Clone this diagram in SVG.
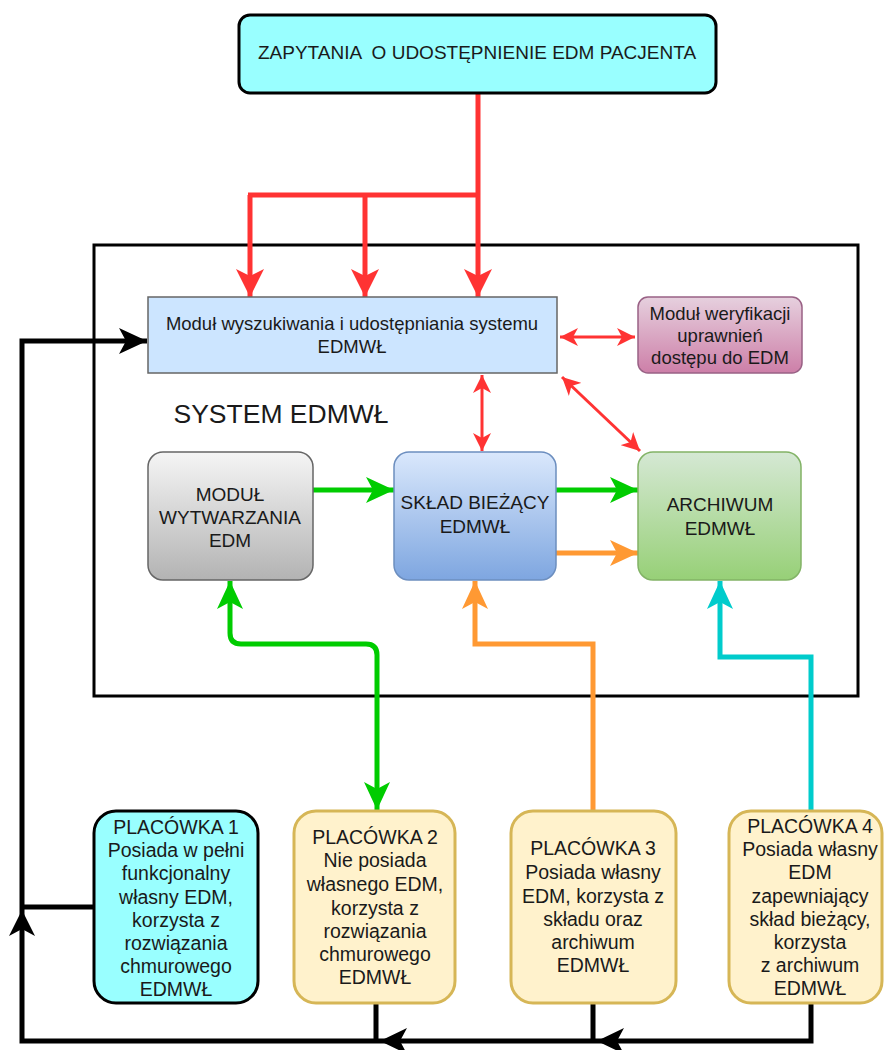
<svg xmlns="http://www.w3.org/2000/svg" width="884" height="1050" viewBox="0 0 884 1050">
<style>
text{font-family:"Liberation Sans",Arial,sans-serif;fill:#1a1a1a;text-anchor:middle;dominant-baseline:central}
.t17{font-size:19.5px}
.t16{font-size:19px}
.t15{font-size:18.5px}
.red{fill:none;stroke:#ff3333;stroke-width:5}
.red2{fill:none;stroke:#ff3333;stroke-width:3}
.blk{fill:none;stroke:#000;stroke-width:5}
.plc{fill:#fff2cc;stroke:#d6b656;stroke-width:3}
</style>
<defs>
<linearGradient id="gGray" x1="0" y1="0" x2="0" y2="1"><stop offset="0" stop-color="#f5f5f5"/><stop offset="1" stop-color="#b3b3b3"/></linearGradient>
<linearGradient id="gBlue" x1="0" y1="0" x2="0" y2="1"><stop offset="0" stop-color="#dae8fc"/><stop offset="1" stop-color="#7ea6e0"/></linearGradient>
<linearGradient id="gGreen" x1="0" y1="0" x2="0" y2="1"><stop offset="0" stop-color="#d5e8d4"/><stop offset="1" stop-color="#97d077"/></linearGradient>
<linearGradient id="gPink" x1="0" y1="0" x2="0" y2="1"><stop offset="0" stop-color="#e6d0de"/><stop offset="1" stop-color="#cd7fa8"/></linearGradient>
<marker id="aRed" markerUnits="userSpaceOnUse" markerWidth="28" markerHeight="28" refX="28" refY="14" orient="auto"><path d="M0,0 L28,14 L0,28 L7,14 z" fill="#ff3333"/></marker>
<marker id="aRed2" markerUnits="userSpaceOnUse" markerWidth="18" markerHeight="18" refX="18" refY="9" orient="auto-start-reverse"><path d="M0,0 L18,9 L0,18 L5,9 z" fill="#ff3333"/></marker>
<marker id="aGreen" markerUnits="userSpaceOnUse" markerWidth="28" markerHeight="28" refX="28" refY="14" orient="auto-start-reverse"><path d="M0,1 L28,14 L0,27 L7,14 z" fill="#00cc00"/></marker>
<marker id="aOrange" markerUnits="userSpaceOnUse" markerWidth="28" markerHeight="28" refX="28" refY="14" orient="auto"><path d="M0,1 L28,14 L0,27 L7,14 z" fill="#ff9933"/></marker>
<marker id="aCyan" markerUnits="userSpaceOnUse" markerWidth="28" markerHeight="28" refX="28" refY="14" orient="auto"><path d="M0,1 L28,14 L0,27 L7,14 z" fill="#00cccc"/></marker>
<marker id="aBlk" markerUnits="userSpaceOnUse" markerWidth="28" markerHeight="28" refX="28" refY="14" orient="auto"><path d="M0,1 L28,14 L0,27 L7,14 z" fill="#000"/></marker>
</defs>

<g id="system">
<rect x="94" y="245" width="764" height="451" fill="none" stroke="#000" stroke-width="3"/>
<text x="281" y="414" style="font-size:26.5px">SYSTEM EDMWŁ</text>
</g>

<g id="connectors">
<path class="red" d="M478,93 V195 M248,195 H478"/>
<path class="red" d="M250,195 V297" marker-end="url(#aRed)"/>
<path class="red" d="M365,195 V297" marker-end="url(#aRed)"/>
<path class="red" d="M478,195 V297" marker-end="url(#aRed)"/>
<path class="red2" d="M560,337 H635" marker-start="url(#aRed2)" marker-end="url(#aRed2)"/>
<path class="red2" d="M482,375 V451" marker-start="url(#aRed2)" marker-end="url(#aRed2)"/>
<path class="red2" d="M562,377 L640,451" marker-start="url(#aRed2)" marker-end="url(#aRed2)"/>
<path d="M305,490 H394" fill="none" stroke="#00cc00" stroke-width="5" marker-end="url(#aGreen)"/>
<path d="M556,490 H638" fill="none" stroke="#00cc00" stroke-width="5" marker-end="url(#aGreen)"/>
<path d="M556,553 H638" fill="none" stroke="#ff9933" stroke-width="5" marker-end="url(#aOrange)"/>
<path d="M230,581 V633 Q230,644 241,644 H366 Q377,644 377,655 V810" fill="none" stroke="#00cc00" stroke-width="5" marker-start="url(#aGreen)" marker-end="url(#aGreen)"/>
<path d="M593,810 V644 H475 V581" fill="none" stroke="#ff9933" stroke-width="5" marker-end="url(#aOrange)"/>
<path d="M811,810 V657 H720 V581" fill="none" stroke="#00cccc" stroke-width="5" marker-end="url(#aCyan)"/>
<path class="blk" d="M811,1003 V1041 H22 V341 H147" marker-end="url(#aBlk)"/>
<path class="blk" d="M94,907 H22 M376,1003 V1041 M593,1003 V1041"/>
<path d="M22,910 L35,936 L22,929 L9,936 z" fill="#000"/>
<path d="M380,1041 L407,1028 L400,1041 L407,1054 z" fill="#000"/>
<path d="M597,1041 L624,1028 L617,1041 L624,1054 z" fill="#000"/>
</g>

<g id="zapytania">
<rect x="239" y="15" width="477" height="78" rx="11" fill="#99ffff" stroke="#000" stroke-width="3"/>
<text x="477" y="52" style="font-size:19px" xml:space="preserve">ZAPYTANIA  O UDOSTĘPNIENIE EDM PACJENTA</text>
</g>

<g id="modul-wyszukiwania">
<rect x="148" y="297" width="409" height="76" fill="#cce5ff" stroke="#666" stroke-width="1.5"/>
<text class="t15" x="352" y="323">Moduł wyszukiwania i udostępniania systemu</text>
<text class="t15" x="352" y="346">EDMWŁ</text>
</g>

<g id="modul-weryfikacji">
<rect x="638" y="297" width="164" height="76" rx="10" fill="url(#gPink)" stroke="#996185" stroke-width="1.5"/>
<text class="t15" x="720" y="313">Moduł weryfikacji</text>
<text class="t15" x="720" y="335">uprawnień</text>
<text class="t15" x="720" y="357">dostępu do EDM</text>
</g>

<g id="modul-wytwarzania">
<rect x="148" y="452" width="165" height="128" rx="15" fill="url(#gGray)" stroke="#666" stroke-width="1.5"/>
<text class="t16" x="230" y="494">MODUŁ</text>
<text class="t16" x="230" y="517">WYTWARZANIA</text>
<text class="t16" x="230" y="540">EDM</text>
</g>

<g id="sklad-biezacy">
<rect x="394" y="452" width="162" height="128" rx="15" fill="url(#gBlue)" stroke="#6c8ebf" stroke-width="1.5"/>
<text class="t16" x="475" y="502">SKŁAD BIEŻĄCY</text>
<text class="t16" x="475" y="526">EDMWŁ</text>
</g>

<g id="archiwum">
<rect x="638" y="452" width="163" height="128" rx="15" fill="url(#gGreen)" stroke="#82b366" stroke-width="1.5"/>
<text class="t16" x="720" y="504">ARCHIWUM</text>
<text class="t16" x="720" y="528">EDMWŁ</text>
</g>

<g id="placowka1">
<rect x="94" y="811" width="164" height="192" rx="22" fill="#99ffff" stroke="#000" stroke-width="3"/>
<text class="t17" x="176" y="827">PLACÓWKA 1</text>
<text class="t17" x="176" y="850">Posiada w pełni</text>
<text class="t17" x="176" y="873">funkcjonalny</text>
<text class="t17" x="176" y="897">własny EDM,</text>
<text class="t17" x="176" y="920">korzysta z</text>
<text class="t17" x="176" y="943">rozwiązania</text>
<text class="t17" x="176" y="966">chmurowego</text>
<text class="t17" x="176" y="989">EDMWŁ</text>
</g>

<g id="placowka2">
<rect x="294" y="811" width="161" height="192" rx="22" class="plc"/>
<text class="t17" x="375" y="837">PLACÓWKA 2</text>
<text class="t17" x="375" y="860">Nie posiada</text>
<text class="t17" x="375" y="884">własnego EDM,</text>
<text class="t17" x="375" y="908">korzysta z</text>
<text class="t17" x="375" y="931">rozwiązania</text>
<text class="t17" x="375" y="954">chmurowego</text>
<text class="t17" x="375" y="977">EDMWŁ</text>
</g>

<g id="placowka3">
<rect x="511" y="811" width="165" height="192" rx="22" class="plc"/>
<text class="t17" x="593" y="848">PLACÓWKA 3</text>
<text class="t17" x="593" y="872">Posiada własny</text>
<text class="t17" x="593" y="896">EDM, korzysta z</text>
<text class="t17" x="593" y="919">składu oraz</text>
<text class="t17" x="593" y="942">archiwum</text>
<text class="t17" x="593" y="965">EDMWŁ</text>
</g>

<g id="placowka4">
<rect x="729" y="811" width="153" height="192" rx="22" class="plc"/>
<text class="t17" x="810" y="826">PLACÓWKA 4</text>
<text class="t17" x="810" y="849">Posiada własny</text>
<text class="t17" x="810" y="872">EDM</text>
<text class="t17" x="810" y="896">zapewniający</text>
<text class="t17" x="810" y="919">skład bieżący,</text>
<text class="t17" x="810" y="942">korzysta</text>
<text class="t17" x="810" y="965">z archiwum</text>
<text class="t17" x="810" y="988">EDMWŁ</text>
</g>
</svg>
